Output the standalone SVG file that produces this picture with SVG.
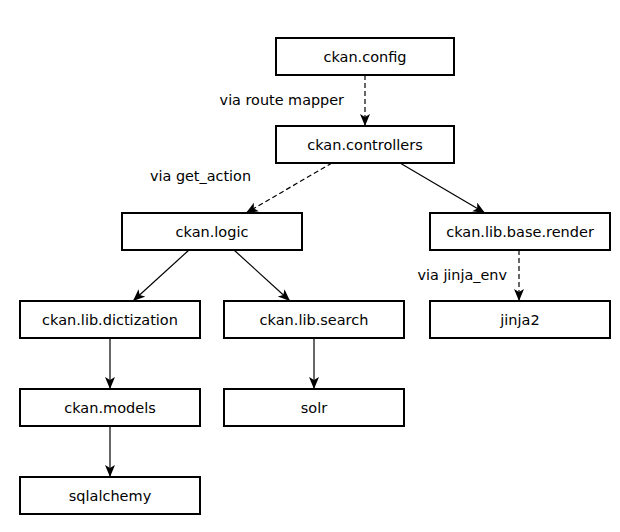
<svg xmlns="http://www.w3.org/2000/svg" width="620" height="532" viewBox="0 0 620 532">
<defs>
<marker id="ah" markerWidth="14" markerHeight="12" refX="12" refY="5" orient="auto" markerUnits="userSpaceOnUse">
<path d="M0,0 L12,5 L0,10 L3,5 z" fill="#000"/>
</marker>
<style>
.box{fill:#fff;stroke:#000;stroke-width:2}
.t{font-family:"DejaVu Sans",sans-serif;font-size:14.5px;text-anchor:middle;dominant-baseline:central;fill:#000}
.lbl{font-family:"DejaVu Sans",sans-serif;font-size:14.4px;fill:#000}
.c{stroke:#000;stroke-width:1.2;fill:none;marker-end:url(#ah)}
.d{stroke-dasharray:5,3}
</style>
</defs>
<rect width="620" height="532" fill="#fff"/>
<g id="connectors">
<line class="c d" x1="365" y1="75" x2="365" y2="126"/>
<line class="c d" x1="332" y1="163" x2="246" y2="213"/>
<line class="c" x1="400" y1="163" x2="485" y2="213"/>
<line class="c d" x1="519" y1="250" x2="519" y2="301"/>
<line class="c" x1="189" y1="250" x2="133" y2="301"/>
<line class="c" x1="234" y1="250" x2="290" y2="301"/>
<line class="c" x1="110" y1="338" x2="110" y2="389"/>
<line class="c" x1="314" y1="338" x2="314" y2="389"/>
<line class="c" x1="110" y1="426" x2="110" y2="477"/>
<text class="lbl" x="344" y="105" text-anchor="end">via route mapper</text>
<text class="lbl" x="251" y="181" text-anchor="end">via get_action</text>
<text class="lbl" x="507" y="280" text-anchor="end">via jinja_env</text>
</g>
<g id="ckan_config"><rect class="box" x="276" y="38" width="178" height="37"/><text class="t" x="365" y="56.5">ckan.config</text></g>
<g id="ckan_controllers"><rect class="box" x="276" y="126" width="178" height="37"/><text class="t" x="365" y="144.5">ckan.controllers</text></g>
<g id="ckan_logic"><rect class="box" x="122" y="213" width="180" height="37"/><text class="t" x="212" y="231.5">ckan.logic</text></g>
<g id="ckan_lib_base_render"><rect class="box" x="430" y="213" width="180" height="37"/><text class="t" x="520" y="231.5">ckan.lib.base.render</text></g>
<g id="jinja2"><rect class="box" x="430" y="301" width="180" height="37"/><text class="t" x="520" y="319.5">jinja2</text></g>
<g id="ckan_lib_dictization"><rect class="box" x="20" y="301" width="180" height="37"/><text class="t" x="110" y="319.5">ckan.lib.dictization</text></g>
<g id="ckan_lib_search"><rect class="box" x="224" y="301" width="180" height="37"/><text class="t" x="314" y="319.5">ckan.lib.search</text></g>
<g id="ckan_models"><rect class="box" x="20" y="389" width="180" height="37"/><text class="t" x="110" y="407.5">ckan.models</text></g>
<g id="solr"><rect class="box" x="224" y="389" width="180" height="37"/><text class="t" x="314" y="407.5">solr</text></g>
<g id="sqlalchemy"><rect class="box" x="20" y="477" width="180" height="37"/><text class="t" x="110" y="495.5">sqlalchemy</text></g>
</svg>
